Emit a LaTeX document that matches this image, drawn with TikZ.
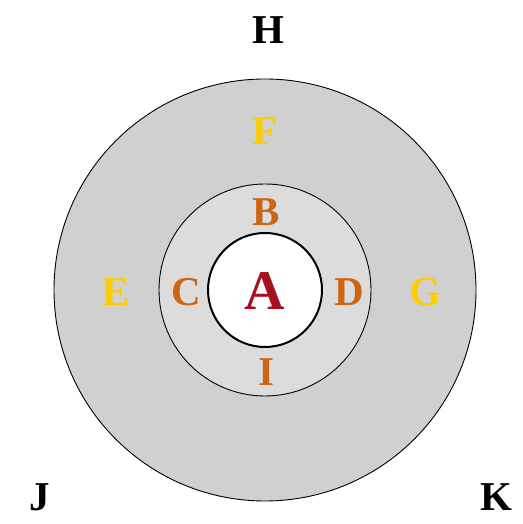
\documentclass[tikz,border=0pt]{standalone}
\usepackage{fontspec}
\setmainfont{Liberation Serif}
\definecolor{ringgray}{HTML}{D0D0D0}
\definecolor{ringlight}{HTML}{DCDCDC}
\definecolor{lettyellow}{HTML}{FFCC00}
\definecolor{lettorange}{HTML}{CC6614}
\definecolor{lettred}{HTML}{A4101E}
\tikzset{
  ring/.style={circle, draw=black, line width=0.9pt, fill=ringgray, inner sep=0pt},
  core/.style={circle, draw=black, line width=2pt, fill=white, inner sep=0pt},
  lbl/.style={inner sep=0pt, font=\fontsize{41}{41}\selectfont\bfseries},
}
\begin{document}
\begin{tikzpicture}[x=1pt,y=1pt]
\useasboundingbox (0,0) rectangle (522,524);
\node[ring, minimum size=422pt] (outer) at (265,234) {};
\node[ring, fill=ringlight, minimum size=212pt] (middle) at (265,234) {};
\node[core, minimum size=114pt] (inner) at (265,234) {};
\node[lbl, text=lettred, font=\fontsize{56}{56}\selectfont\bfseries] (A) at (265,233) {A};
\node[lbl, text=lettorange] (B) at (266,312) {B};
\node[lbl, text=lettorange] (C) at (186,232) {C};
\node[lbl, text=lettorange] (D) at (349,232) {D};
\node[lbl, text=lettorange] (I) at (266,152) {I};
\node[lbl, text=lettyellow] (E) at (116,232) {E};
\node[lbl, text=lettyellow] (F) at (265,393) {F};
\node[lbl, text=lettyellow] (G) at (425,232) {G};
\node[lbl, text=black] (H) at (268,494) {H};
\node[lbl, text=black] (J) at (40,27) {J};
\node[lbl, text=black] (K) at (496,27) {K};
\end{tikzpicture}
\end{document}
